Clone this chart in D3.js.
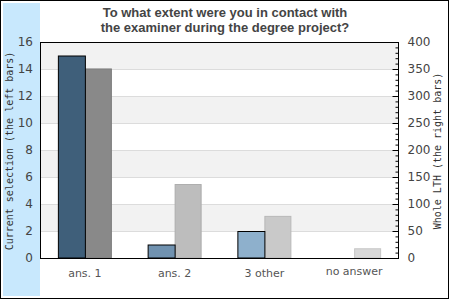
<!DOCTYPE html>
<html>
<head>
<meta charset="utf-8">
<script src="https://cdn.jsdelivr.net/npm/d3@7"></script>
<style>
  body { margin: 0; background: #fff; }
  svg { display: block; }
</style>
</head>
<body>
<script>
// chart data
var categories = ["ans. 1", "ans. 2", "3 other", "no answer"];
var selection = [15, 1, 2, 0];          // left axis, current selection
var whole = [351, 137, 78, 18];         // right axis, whole LTH
var leftColors = ["#3f5f7a", "#7092b0", "#8eb0cc", "#a8c4da"];
var rightColors = ["#898989", "#bdbdbd", "#c9c9c9", "#d9d9d9"];
var leftTicks = [0, 2, 4, 6, 8, 10, 12, 14, 16];
var rightTicks = [0, 50, 100, 150, 200, 250, 300, 350, 400];
var title = ["To what extent were you in contact with", "the examiner during the degree project?"];

var width = 450, height = 300;
var plot = {left: 40, right: 399, top: 42, bottom: 258};

var svg = d3.select("body").append("svg")
    .attr("width", width)
    .attr("height", height);

// frame + blue side band
svg.append("rect")
    .attr("x", 0.5).attr("y", 0.5)
    .attr("width", 448).attr("height", 298)
    .attr("fill", "#fff").attr("stroke", "#000");
svg.append("rect")
    .attr("x", 3).attr("y", 3)
    .attr("width", 37).attr("height", 293)
    .attr("fill", "#c8e8fd");

var x = d3.scaleBand()
    .domain(categories)
    .range([plot.left, plot.right])
    .padding(0);
var y = d3.scaleLinear().domain([0, 16]).range([plot.bottom, plot.top]);
var y2 = d3.scaleLinear().domain([0, 400]).range([plot.bottom, plot.top]);
var barW = 27;

// alternating bands
var bands = d3.pairs(leftTicks).filter(function(d, i) { return i % 2 == 1; });
svg.append("g").selectAll("rect")
    .data(bands)
    .enter().append("rect")
      .attr("x", plot.left)
      .attr("y", function(d) { return y(d[1]); })
      .attr("width", plot.right - plot.left)
      .attr("height", function(d) { return y(d[0]) - y(d[1]); })
      .attr("fill", "#f2f2f2");

// grid lines
svg.append("g").selectAll("line")
    .data(leftTicks.slice(1, -1))
    .enter().append("line")
      .attr("x1", plot.left).attr("x2", plot.right)
      .attr("y1", function(d) { return Math.round(y(d)) + 0.5; })
      .attr("y2", function(d) { return Math.round(y(d)) + 0.5; })
      .attr("stroke", "#dcdcdc");

// right bars (whole LTH)
svg.append("g").selectAll("rect")
    .data(whole)
    .enter().append("rect")
      .attr("x", function(d, i) { return x(categories[i]) + x.bandwidth() / 2 + 0.5; })
      .attr("y", function(d) { return y2(d) + 0.5; })
      .attr("width", barW - 1)
      .attr("height", function(d) { return y2(0) - y2(d) - 0.5; })
      .attr("fill", function(d, i) { return rightColors[i]; })
      .attr("stroke", function(d, i) { return d3.rgb(rightColors[i]).darker(0.25); });

// left bars (current selection)
svg.append("g").selectAll("rect")
    .data(selection.map(function(v, i) { return {v: v, i: i}; }).filter(function(d) { return d.v > 0; }))
    .enter().append("rect")
      .attr("x", function(d) { return x(categories[d.i]) + x.bandwidth() / 2 - barW + 0.5; })
      .attr("y", function(d) { return y(d.v) + 0.5; })
      .attr("width", barW)
      .attr("height", function(d) { return y(0) - y(d.v) - 0.5; })
      .attr("fill", function(d) { return leftColors[d.i]; })
      .attr("stroke", "#000");

// plot frame
svg.append("rect")
    .attr("x", plot.left + 0.5).attr("y", plot.top + 0.5)
    .attr("width", plot.right - plot.left - 1)
    .attr("height", plot.bottom - plot.top)
    .attr("fill", "none")
    .attr("stroke", "#000");

// left axis
var gl = svg.append("g")
    .attr("transform", "translate(" + plot.left + ",0)")
    .call(d3.axisLeft(y).tickValues(leftTicks).tickSize(0).tickPadding(7));
gl.select(".domain").remove();
gl.selectAll("text")
    .attr("font-family", "DejaVu Sans")
    .attr("font-size", 12)
    .attr("fill", "#444");

// right axis, minor ticks then major
var gm = svg.append("g")
    .attr("transform", "translate(" + (plot.right - 0.5) + ",0)")
    .call(d3.axisRight(y2).tickValues(d3.range(0, 401, 10)).tickSize(-3).tickFormat(""));
gm.select(".domain").remove();
gm.selectAll("line").attr("stroke", "#000");

var gr = svg.append("g")
    .attr("transform", "translate(" + (plot.right - 0.5) + ",0)")
    .call(d3.axisRight(y2).tickValues(rightTicks).tickSize(-6).tickPadding(9));
gr.select(".domain").remove();
gr.selectAll("text")
    .attr("font-family", "DejaVu Sans")
    .attr("font-size", 12)
    .attr("fill", "#444");

// category labels
svg.append("g").selectAll("text")
    .data(categories)
    .enter().append("text")
      .attr("x", function(d) { return x(d) + x.bandwidth() / 2; })
      .attr("y", function(d, i) { return i == 3 ? 275 : 277; })
      .attr("text-anchor", "middle")
      .attr("font-family", "DejaVu Sans")
      .attr("font-size", 11)
      .attr("fill", "#555")
      .text(function(d) { return d; });

// title
svg.append("g").selectAll("text")
    .data(title)
    .enter().append("text")
      .attr("x", 225)
      .attr("y", function(d, i) { return 17 + i * 15; })
      .attr("text-anchor", "middle")
      .attr("font-family", "Liberation Sans, Arial, sans-serif")
      .attr("font-weight", "bold")
      .attr("font-size", 13)
      .attr("fill", "#444")
      .text(function(d) { return d; });

// axis titles
svg.append("text")
    .attr("transform", "translate(13,151) rotate(-90)")
    .attr("text-anchor", "middle")
    .attr("font-family", "DejaVu Sans Mono")
    .attr("font-size", 10)
    .attr("fill", "#333")
    .text("Current selection (the left bars)");
svg.append("text")
    .attr("transform", "translate(441,151) rotate(-90)")
    .attr("text-anchor", "middle")
    .attr("font-family", "DejaVu Sans Mono")
    .attr("font-size", 10)
    .attr("fill", "#333")
    .text("Whole LTH (the right bars)");
</script>
</body>
</html>
